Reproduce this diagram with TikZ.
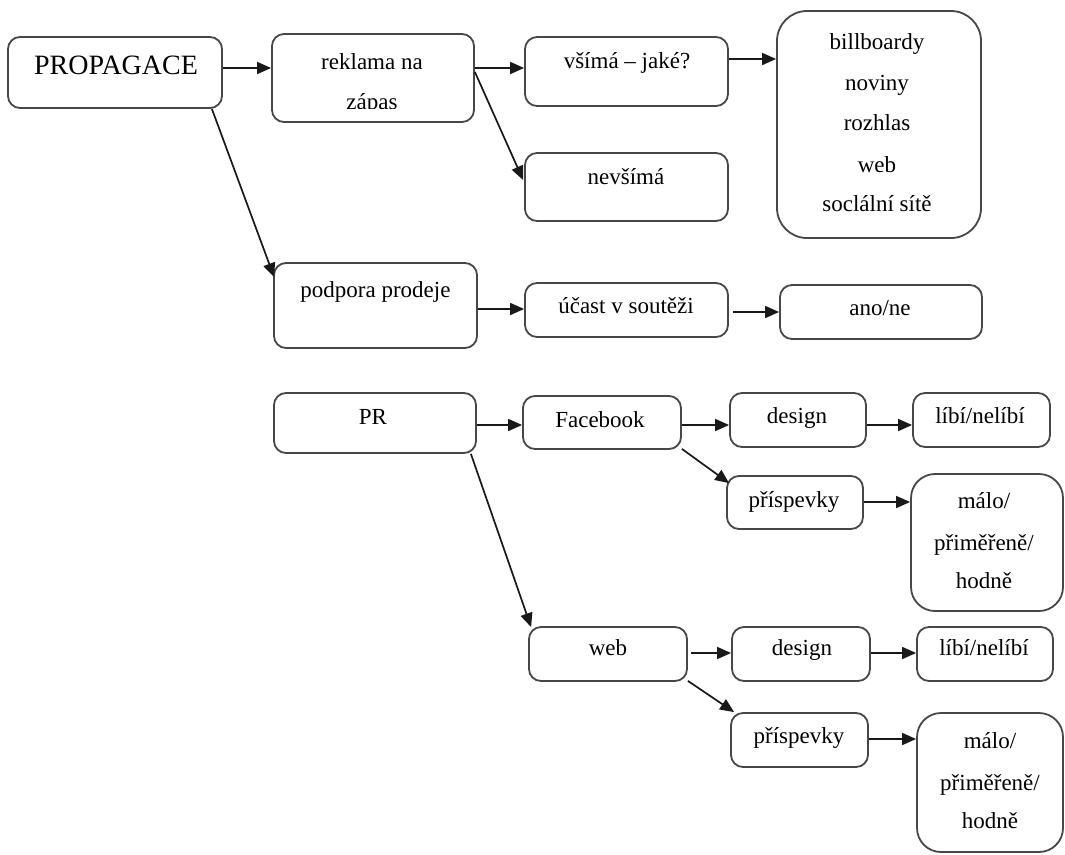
\documentclass[tikz,border=0pt]{standalone}
\usepackage{fontspec}
\setmainfont{Liberation Serif}
\usetikzlibrary{arrows.meta,calc}
\begin{document}
\begin{tikzpicture}[x=1pt,y=-1pt,
  box/.style={draw=black!72, line width=1.8pt, rounded corners=12pt, fill=white, inner sep=0pt},
  bigbox/.style={box, rounded corners=30pt},
  midbox/.style={box, rounded corners=24pt},
  txt/.style={anchor=base, font=\fontsize{23}{27}\selectfont, inner sep=0pt},
  bigtxt/.style={anchor=base, font=\fontsize{28}{32}\selectfont, inner sep=0pt},
  arr/.style={-{Triangle[length=14pt,width=12pt]}, line width=1.7pt, black!90}]
\useasboundingbox[fill=white] (0,0) rectangle (1065,854);
% boxes
\node[box, minimum width=214, minimum height=71] (prop) at (115,72.5) {};
\node[box, minimum width=202, minimum height=88] (rek) at (373,78) {};
\node[box, minimum width=203, minimum height=69] (vsi) at (626.5,71.5) {};
\node[box, minimum width=203, minimum height=68] (nev) at (626.5,187) {};
\node[bigbox, minimum width=204, minimum height=227] (bill) at (879,124.5) {};
\node[box, minimum width=203, minimum height=85] (pod) at (375.5,305.5) {};
\node[box, minimum width=203, minimum height=54] (uca) at (626.5,310) {};
\node[box, minimum width=202, minimum height=54] (ano) at (881,312) {};
\node[box, minimum width=202, minimum height=60] (pr) at (375,423) {};
\node[box, minimum width=158, minimum height=53] (fb) at (602,422.5) {};
\node[box, minimum width=136, minimum height=54] (d1) at (798,420) {};
\node[box, minimum width=137, minimum height=54] (l1) at (981.5,420) {};
\node[box, minimum width=136, minimum height=53] (p1) at (795,502.5) {};
\node[midbox, minimum width=152, minimum height=137] (m1) at (987,542.5) {};
\node[box, minimum width=158, minimum height=54] (web) at (608,654) {};
\node[box, minimum width=138, minimum height=54] (d2) at (801,654) {};
\node[box, minimum width=136, minimum height=54] (l2) at (985,654) {};
\node[box, minimum width=137, minimum height=54] (p2) at (799.5,740) {};
\node[midbox, minimum width=146, minimum height=139] (m2) at (990,782.5) {};
% texts
\node[bigtxt] (tprop) at (116,74) {PROPAGACE};
\node[txt] (trek1) at (372,69) {reklama na};
\begin{scope}
  \clip (rek.north west) rectangle ([yshift=14.5pt]rek.south east);
  \node[txt] (trek2) at (372,109) {zápas};
\end{scope}
\node[txt] (tvsi) at (627,68) {všímá – jaké?};
\node[txt] (tnev) at (626,184) {nevšímá};
\node[txt] (tb1) at (877,49) {billboardy};
\node[txt] (tb2) at (877,90) {noviny};
\node[txt] (tb3) at (877,130) {rozhlas};
\node[txt] (tb4) at (877,172) {web};
\node[txt] (tb5) at (877,211) {soclální sítě};
\node[txt] (tpod) at (375.5,297) {podpora prodeje};
\node[txt] (tuca) at (626,313) {účast v soutěži};
\node[txt] (tano) at (880,315) {ano/ne};
\node[txt] (tpr) at (373,424) {PR};
\node[txt] (tfb) at (600,427) {Facebook};
\node[txt] (td1) at (797,423) {design};
\node[txt] (tl1) at (980,423) {líbí/nelíbí};
\node[txt] (tp1) at (794,507) {příspevky};
\node[txt] (tm1a) at (984,508) {málo/};
\node[txt] (tm1b) at (984,550) {přiměřeně/};
\node[txt] (tm1c) at (984,588) {hodně};
\node[txt] (tweb) at (608,655) {web};
\node[txt] (td2) at (802,655) {design};
\node[txt] (tl2) at (984,655) {líbí/nelíbí};
\node[txt] (tp2) at (799,743) {příspevky};
\node[txt] (tm2a) at (990,748) {málo/};
\node[txt] (tm2b) at (990,790) {přiměřeně/};
\node[txt] (tm2c) at (990,828) {hodně};
% connectors
\draw[arr] ($(prop.east)+(0,-4.5)$) -- ($(prop.east -| rek.west)+(0,-4.5)$);
\draw[arr] ($(rek.east)+(0,-10)$) -- ($(rek.east -| vsi.west)+(0,-10)$);
\draw[arr] ($(rek.east)+(0,-6)$) -- ($(nev.west)+(-1,-7)$);
\draw[arr] ($(vsi.east)+(0,-12.5)$) -- ($(vsi.east -| bill.west)+(0,-12.5)$);
\draw[arr] ($(prop.south east)+(-11,0)$) -- ($(pod.north west)+(1,15)$);
\draw[arr] ($(pod.east)+(0,3.5)$) -- ($(pod.east -| uca.west)+(0,3.5)$);
\draw[arr] ($(uca.east)+(4,2)$) -- ($(uca.east -| ano.west)+(0,2)$);
\draw[arr] ($(pr.east)+(0,2)$) -- ($(pr.east -| fb.west)+(0,2)$);
\draw[arr] ($(fb.east)+(0,2.5)$) -- ($(fb.east -| d1.west)+(0,2.5)$);
\draw[arr] ($(d1.east)+(0,5)$) -- ($(d1.east -| l1.west)+(0,5)$);
\draw[arr] ($(fb.south east)+(0,-1)$) -- ($(p1.north west)+(3,8)$);
\draw[arr] ($(p1.east)+(0,-0.5)$) -- ($(p1.east -| m1.west)+(0,-0.5)$);
\draw[arr] ($(pr.south east)+(-6,0)$) -- ($(web.north west)+(3,1)$);
\draw[arr] ($(web.east)+(3,-1)$) -- ($(web.east -| d2.west)+(0,-1)$);
\draw[arr] ($(d2.east)+(0,-1)$) -- ($(d2.east -| l2.west)+(0,-1)$);
\draw[arr] ($(web.south east)+(0,-1)$) -- ($(p2.north west)+(4,0)$);
\draw[arr] ($(p2.east)+(0,-1)$) -- ($(p2.east -| m2.west)+(0,-1)$);
\end{tikzpicture}
\end{document}
